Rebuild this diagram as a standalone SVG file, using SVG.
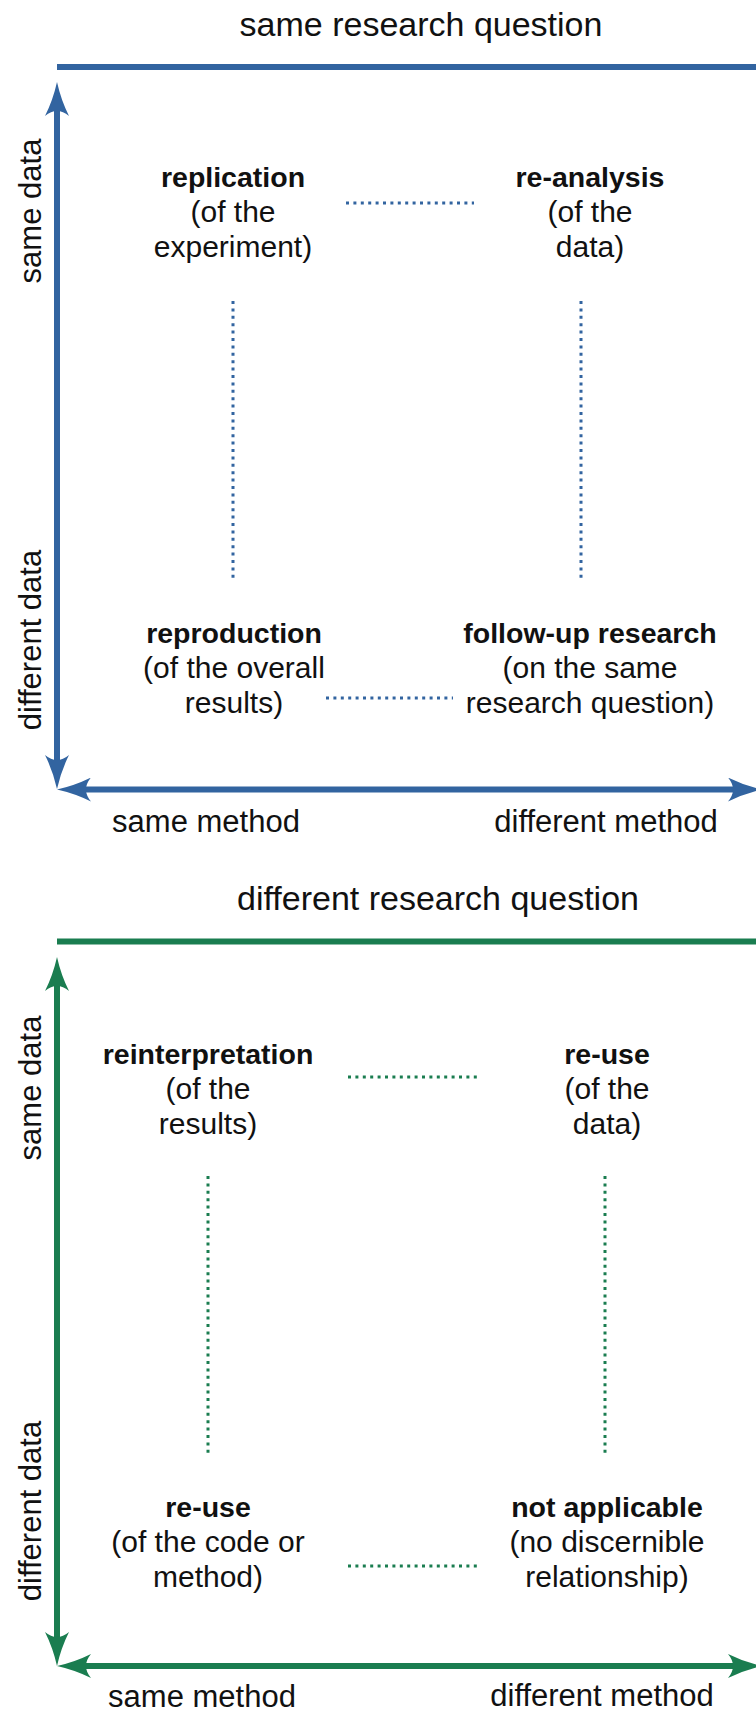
<svg xmlns="http://www.w3.org/2000/svg" width="756" height="1715" viewBox="0 0 756 1715">
<style>
text{font-family:"Liberation Sans",Arial,sans-serif;fill:#111;text-anchor:middle}
.t{font-size:34px}
.ax{font-size:31px}
.b{font-size:28.5px;font-weight:bold}
.r{font-size:30px}
.blue{stroke:#3264a0}
.green{stroke:#1a7d50}
.axis{stroke-width:6;fill:none}
.dot{stroke-width:3;stroke-dasharray:3 4.4;fill:none}
</style>
<defs>
<marker id="ab" viewBox="0 -12 34 24" markerWidth="34" markerHeight="24" refX="8" refY="0" orient="auto-start-reverse" markerUnits="userSpaceOnUse">
<path d="M34,0 Q16,-4 0,-12 Q10,0 0,12 Q16,4 34,0 Z" fill="#3264a0"/>
</marker>
<marker id="ag" viewBox="0 -12 34 24" markerWidth="34" markerHeight="24" refX="8" refY="0" orient="auto-start-reverse" markerUnits="userSpaceOnUse">
<path d="M34,0 Q16,-4 0,-12 Q10,0 0,12 Q16,4 34,0 Z" fill="#1a7d50"/>
</marker>
</defs>

<g id="connectors">
<line class="blue axis" x1="57" y1="67" x2="756" y2="67"/>
<line class="blue axis" x1="57" y1="108" x2="57" y2="763" marker-start="url(#ab)" marker-end="url(#ab)"/>
<line class="blue axis" x1="83" y1="789.5" x2="736" y2="789.5" marker-start="url(#ab)" marker-end="url(#ab)"/>
<line class="blue dot" x1="346" y1="203" x2="474" y2="203"/>
<line class="blue dot" x1="326" y1="698" x2="453" y2="698"/>
<line class="blue dot" x1="233" y1="301" x2="233" y2="578"/>
<line class="blue dot" x1="581" y1="301" x2="581" y2="578"/>
<line class="green axis" x1="57" y1="941.5" x2="756" y2="941.5"/>
<line class="green axis" x1="57" y1="983" x2="57" y2="1640" marker-start="url(#ag)" marker-end="url(#ag)"/>
<line class="green axis" x1="83" y1="1666" x2="736" y2="1666" marker-start="url(#ag)" marker-end="url(#ag)"/>
<line class="green dot" x1="348" y1="1077" x2="477" y2="1077"/>
<line class="green dot" x1="348" y1="1566" x2="478" y2="1566"/>
<line class="green dot" x1="208" y1="1176" x2="208" y2="1455"/>
<line class="green dot" x1="605" y1="1176" x2="605" y2="1455"/>
</g>

<g id="title-top"><text class="t" x="421" y="36">same research question</text></g>
<g id="axis-labels-top">
<text class="ax" transform="translate(41,211) rotate(-90)">same data</text>
<text class="ax" transform="translate(41,640) rotate(-90)">different data</text>
<text class="ax" x="206" y="832">same method</text>
<text class="ax" x="606" y="832">different method</text>
</g>

<g id="replication">
<text class="b" x="233" y="187">replication</text>
<text class="r" x="233" y="222">(of the</text>
<text class="r" x="233" y="257">experiment)</text>
</g>
<g id="re-analysis">
<text class="b" x="590" y="187">re-analysis</text>
<text class="r" x="590" y="222">(of the</text>
<text class="r" x="590" y="257">data)</text>
</g>
<g id="reproduction">
<text class="b" x="234" y="643">reproduction</text>
<text class="r" x="234" y="678">(of the overall</text>
<text class="r" x="234" y="713">results)</text>
</g>
<g id="follow-up-research">
<text class="b" x="590" y="643">follow-up research</text>
<text class="r" x="590" y="678">(on the same</text>
<text class="r" x="590" y="713">research question)</text>
</g>

<g id="title-bottom"><text class="t" x="438" y="910">different research question</text></g>
<g id="axis-labels-bottom">
<text class="ax" transform="translate(41,1088) rotate(-90)">same data</text>
<text class="ax" transform="translate(41,1511) rotate(-90)">different data</text>
<text class="ax" x="202" y="1707">same method</text>
<text class="ax" x="602" y="1706">different method</text>
</g>

<g id="reinterpretation">
<text class="b" x="208" y="1064">reinterpretation</text>
<text class="r" x="208" y="1099">(of the</text>
<text class="r" x="208" y="1134">results)</text>
</g>
<g id="re-use-data">
<text class="b" x="607" y="1064">re-use</text>
<text class="r" x="607" y="1099">(of the</text>
<text class="r" x="607" y="1134">data)</text>
</g>
<g id="re-use-code">
<text class="b" x="208" y="1517">re-use</text>
<text class="r" x="208" y="1552">(of the code or</text>
<text class="r" x="208" y="1587">method)</text>
</g>
<g id="not-applicable">
<text class="b" x="607" y="1517">not applicable</text>
<text class="r" x="607" y="1552">(no discernible</text>
<text class="r" x="607" y="1587">relationship)</text>
</g>
</svg>
